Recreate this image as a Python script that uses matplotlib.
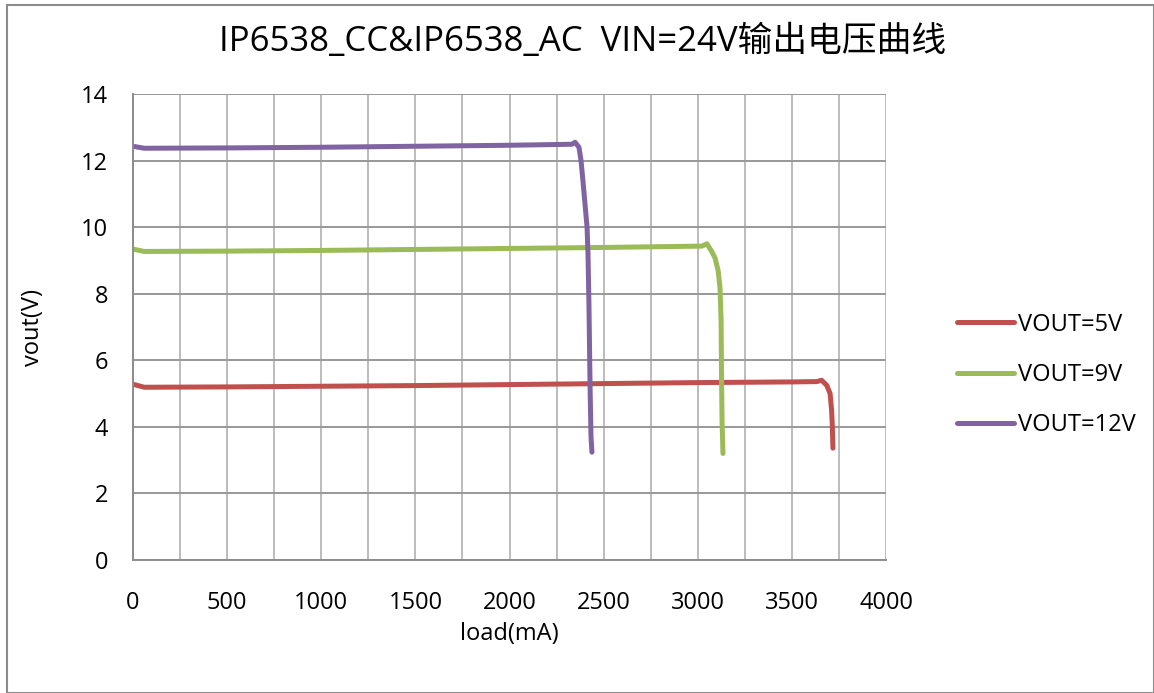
import matplotlib
matplotlib.use("Agg")
import matplotlib.pyplot as plt
from matplotlib.patches import Rectangle
from matplotlib.ticker import MultipleLocator

plt.rcParams['font.family'] = ['Open Sans', 'Noto Sans CJK SC', 'DejaVu Sans']

title = "IP6538_CC&IP6538_AC  VIN=24V输出电压曲线"
x_label = "load(mA)"
y_label = "vout(V)"

x5 = [0, 60, 500, 1000, 1500, 2000, 2500, 3000, 3500, 3632, 3658, 3685, 3703, 3711, 3715, 3718]
y5 = [5.28, 5.19, 5.2, 5.22, 5.24, 5.27, 5.3, 5.33, 5.35, 5.36, 5.4, 5.25, 5.0, 4.5, 4.0, 3.36]

x9 = [0, 60, 500, 1000, 1500, 2000, 2500, 3022, 3049, 3076, 3092, 3108, 3118, 3124, 3126, 3129, 3134]
y9 = [9.34, 9.27, 9.28, 9.3, 9.33, 9.36, 9.39, 9.43, 9.5, 9.25, 9.07, 8.7, 8.2, 7.2, 5.7, 4.2, 3.2]

x12 = [0, 60, 500, 1000, 1500, 2000, 2332, 2348, 2369, 2380, 2390, 2401, 2412, 2417, 2422, 2428, 2433, 2438]
y12 = [12.43, 12.37, 12.38, 12.4, 12.43, 12.46, 12.49, 12.55, 12.4, 12.0, 11.4, 10.7, 10.0, 9.2, 7.7, 5.2, 3.7, 3.24]

series = [("VOUT=5V", x5, y5, "#C0504D"),
          ("VOUT=9V", x9, y9, "#9BBB59"),
          ("VOUT=12V", x12, y12, "#8064A2")]

W, H = 1154, 693
fig = plt.figure(figsize=(W / 100, H / 100), dpi=100)
ax = fig.add_axes([133/W, 1-560/H, (886-133)/W, (560-94)/H])

for label, xs, ys, c in series:
    ax.plot(xs, ys, color=c, lw=3.6, label=label, solid_joinstyle='round', solid_capstyle='round')

ax.set_xlim(0, 4000)
ax.set_ylim(0, 14)
ax.xaxis.set_major_locator(MultipleLocator(500))
ax.xaxis.set_minor_locator(MultipleLocator(250))
ax.yaxis.set_major_locator(MultipleLocator(2))
ax.grid(True, which='both', axis='x', color='#bcbcbc', lw=1.4)
ax.grid(True, which='major', axis='y', color='#989898', lw=1.4)
ax.set_axisbelow(True)
for s in ['top', 'right']:
    ax.spines[s].set_visible(False)
for s in ['left', 'bottom']:
    ax.spines[s].set_color('#8c8c8c')
    ax.spines[s].set_linewidth(1.4)
ax.tick_params(which='both', length=0, labelsize=17)
ax.tick_params(axis='x', pad=22)
ax.tick_params(axis='y', pad=18)
ax.set_xlabel(x_label, fontsize=17)
ax.set_ylabel(y_label, fontsize=17)
ax.xaxis.set_label_coords(0.5, (560-634)/466)
ax.xaxis.label.set_va('center')
ax.yaxis.set_label_coords((33-133)/753, 0.5)
ax.yaxis.label.set_va('center')

fig.text(583/W, 1-42/H, title, ha='center', va='center', fontsize=25,
         family=['Open Sans', 'Noto Sans CJK SC', 'DejaVu Sans'])

ax.legend(loc='center left', bbox_to_anchor=(950/W, 1-375/H), bbox_transform=fig.transFigure,
          frameon=False, fontsize=17, handlelength=2.4, labelspacing=1.12, handletextpad=0.2,
          borderaxespad=0, borderpad=0.3)

fig.patches.append(Rectangle((0.006, 0.0), 0.994, 0.993, transform=fig.transFigure,
                             fill=False, edgecolor='#8c8c8c', lw=1.5))

fig.savefig("out.png", dpi=100)
